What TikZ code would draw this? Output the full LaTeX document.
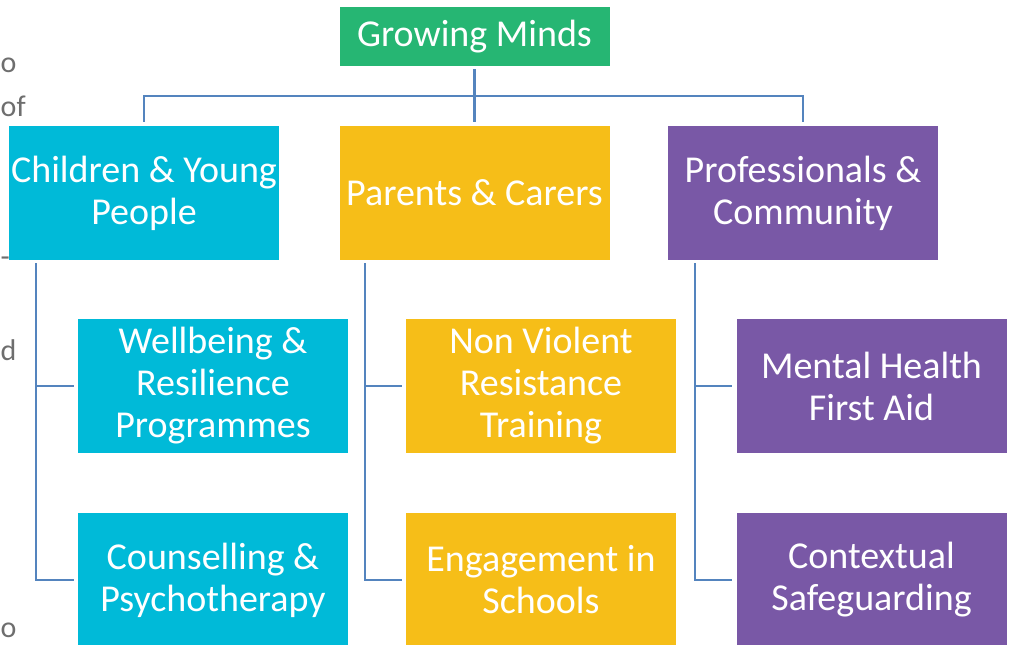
\documentclass[tikz,border=0pt]{standalone}
\usepackage{fontspec}
\setmainfont{Carlito}
\definecolor{gmgreen}{RGB}{38,182,115}
\definecolor{gmcyan}{RGB}{0,186,216}
\definecolor{gmyellow}{RGB}{246,190,24}
\definecolor{gmpurple}{RGB}{121,88,166}
\definecolor{gmline}{RGB}{84,132,190}
\definecolor{gmgrey}{RGB}{110,110,110}
\tikzset{
  box/.style={rectangle, inner sep=0pt, minimum width=270pt, minimum height=134pt,
    text=white, align=center, font=\fontsize{38}{42}\selectfont},
  conn/.style={draw=gmline, line width=2.4pt},
  frag/.style={text=gmgrey, inner sep=0pt, font=\fontsize{30}{34}\selectfont}
}
\begin{document}
\begin{tikzpicture}[x=1pt,y=-1pt]
\useasboundingbox (0,0) rectangle (1009,645);
\clip (0,0) rectangle (1009,645);
\fill[white] (0,0) rectangle (1009,645);
% fragments of neighbouring text
\node[frag, anchor=base west] (f1) at (0.5,72) {o};
\node[frag, anchor=base west] (f2) at (0.5,116) {of};
\node[frag, anchor=base west] (f3) at (0.5,266) {-};
\node[frag, anchor=base west] (f4) at (0.5,360) {d};
\node[frag, anchor=base west] (f5) at (0.5,637) {o};
% boxes
\node[box, fill=gmgreen, minimum height=59pt] (root) at (474.5,36.5) {Growing Minds};
\node[box, fill=gmcyan] (cyp) at (144,193) {Children \& Young\\People};
\node[box, fill=gmyellow] (pc) at (474.5,193) {Parents \& Carers};
\node[box, fill=gmpurple] (prof) at (803,193) {Professionals \&\\Community};
\node[box, fill=gmcyan] (wb) at (213,386) {Wellbeing \&\\Resilience\\Programmes};
\node[box, fill=gmcyan] (cp) at (213,580) {Counselling \&\\Psychotherapy};
\node[box, fill=gmyellow] (nvr) at (541,386) {Non Violent\\Resistance\\Training};
\node[box, fill=gmyellow] (eis) at (541,580) {Engagement in\\Schools};
\node[box, fill=gmpurple] (mh) at (871.5,386) {Mental Health\\First Aid};
\node[box, fill=gmpurple] (cs) at (871.5,580) {Contextual\\Safeguarding};
% connectors
\coordinate (bus) at (474.5,96);
\draw[conn] ([yshift=-3pt]root.south) -- ([yshift=4pt]pc.north);
\draw[conn] ([yshift=4pt]cyp.north) |- (bus) -| ([yshift=4pt]prof.north);
\draw[conn] ([xshift=-108pt,yshift=-3pt]cyp.south) |- ([xshift=-4pt]cp.west);
\draw[conn] ([xshift=-108pt]cyp.south |- wb.west) -- ([xshift=-4pt]wb.west);
\draw[conn] ([xshift=-109.5pt,yshift=-3pt]pc.south) |- ([xshift=-4pt]eis.west);
\draw[conn] ([xshift=-109.5pt]pc.south |- nvr.west) -- ([xshift=-4pt]nvr.west);
\draw[conn] ([xshift=-108pt,yshift=-3pt]prof.south) |- ([xshift=-4pt]cs.west);
\draw[conn] ([xshift=-108pt]prof.south |- mh.west) -- ([xshift=-4pt]mh.west);
\end{tikzpicture}
\end{document}
